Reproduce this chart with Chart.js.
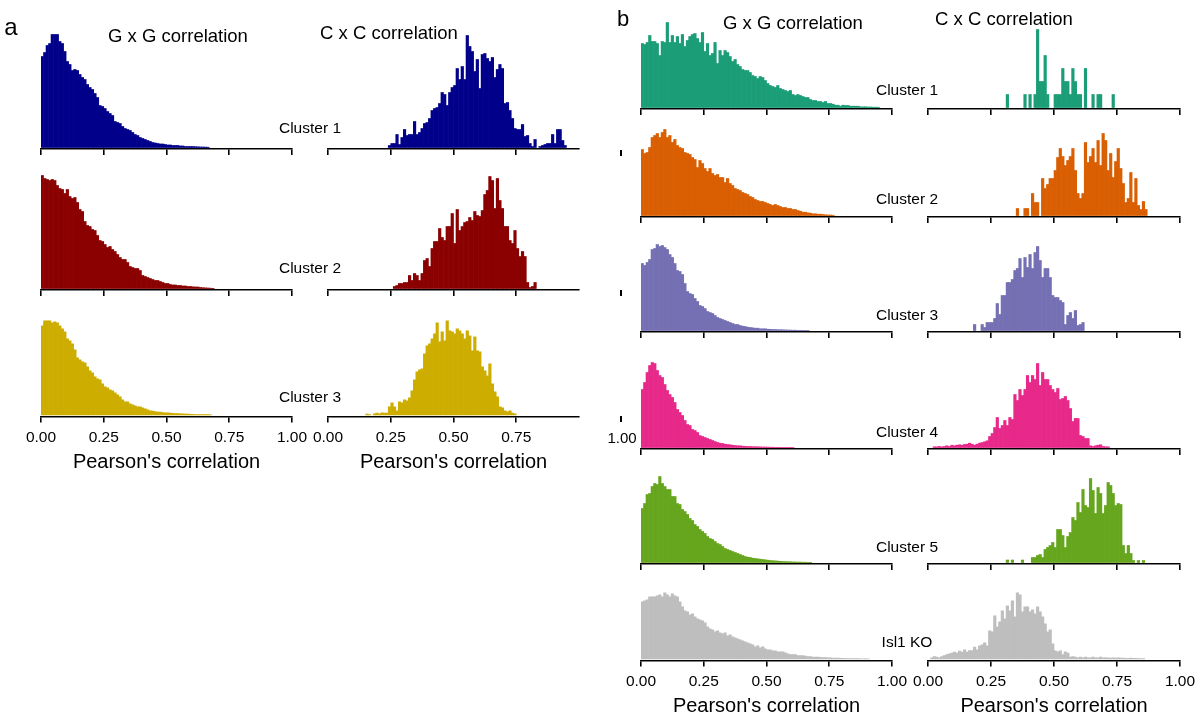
<!DOCTYPE html>
<html>
<head>
<meta charset="utf-8">
<script src="https://cdn.jsdelivr.net/npm/chart.js@4.4.1/dist/chart.umd.min.js"></script>
<style>
  html, body { margin: 0; padding: 0; background: #fff; }
  #fig { position: relative; width: 1202px; height: 717px; overflow: hidden;
         font-family: 'Liberation Sans', Arial, Helvetica, sans-serif; color: #000; }
  .lbl { position: absolute; white-space: nowrap; transform: translate(-50%, -50%); line-height: 1; }
  .hist { position: absolute; }
  .ytick { position: absolute; width: 2px; height: 6px; background: #000; }
</style>
</head>
<body>
<div id="fig"></div>
<script>
// Histograms of pairwise Pearson correlations, 0.01-wide bins starting at 0.
// Values are relative bin heights (bin 0 first).

// ---- Panel a: three clusters ----
const gxgA1 = [91,95,102,104,113,113,113,106,104,96,86,83,77,78,77,73,70,68,63,60,58,54,50,42,41,39,36,34,32,26,25,24,21,19,18,17,15,13,12,10,9,8,7,6,5,4.5,4,3.5,3.5,3,2.5,2.5,2,2,2,1.5,1.5,1,1,1,1,0.8,0.7,0.5,0.5,0.4,0.3];
const cxcA1 = [0,0,0,0,0,0,0,0,0,0,0,0,0,0,0,0,0,0,0,0,0,0,0,0,2,4,4,13,3,10,18,12,13,13,26,13,15,19,24,25,29,37,39,40,44,55,53,42,55,60,62,79,68,81,68,112,101,96,76,88,59,93,94,89,86,90,70,78,83,79,44,45,37,29,19,18,18,23,11,12,4,1,8,0,1,2,3,4,4,13,4,18,18,7,2];
const gxgA2 = [113,110,109,108,109,108,103,100,99,95,99,92,90,91,86,79,77,67,63,62,59,58,53,48,47,44,41,42,39,37,34,31,29,29,26,22,21,20,20,18,13,12,11,10,9,8,8,7,6,5,5,4,3.5,3.5,3,3,2.5,2.5,2,2,1.7,1.5,1.5,1,0.8,0.6,0.5,0.3,0.2];
const cxcA2 = [0,0,0,0,0,0,0,0,0,0,0,0,0,0,0,0,0,0,0,0,0,0,0,0,0,0,2,3,5,5,6,6,13,8,15,13,8,15,28,30,22,40,47,47,60,51,48,62,62,75,45,79,58,62,66,67,71,68,77,73,72,78,94,98,112,108,80,110,88,80,62,62,48,45,58,40,32,37,32,6,1,2,6];
const gxgA3 = [89,94,94,94,92,93,92,89,86,83,76,74,71,65,57,55,53,52,48,44,42,38,36,35,31,28,27,25,24,22,20,18,15,13,13,11,10,9,8,8,7,6,5,4,3.7,3.3,2.7,2.7,2.3,2,2,1.7,1.5,1.3,1.2,1,1,0.8,0.7,0.6,0.5,0.4,0.4,0.3,0.3,0.2,0.2,0.1];
const cxcA3 = [0,0,0,0,0,0,0,0,0,0,0,0,0,0,0,0.7,0.3,0,1,1.7,1,2,1.7,1.7,8,12,8,4,13,12,15,14,17,24,35,43,45,46,61,69,71,76,81,92,73,83,74,94,84,83,81,86,84,81,76,84,79,64,78,64,63,48,44,39,51,31,23,18,8,7,4,3,4,1.7,1];

// ---- Panel b: five clusters and Isl1 KO ----
const gxgB1 = [64,63,65,72,66,66,64,52,66,65,85,65,72,65,71,64,73,61,67,71,73,74,69,65,75,56,64,52,54,65,44,57,52,57,55,51,46,48,43,41,38,37,37,35,32,31,29,31,30,27,24,22,21,20,22,19,18,17,16,17,13,12,13,12,11,10,10,8,7,7,6,6,5,6,4,4,3.3,2.3,2.3,1.3,2.3,2,2,1.3,1.3,1.3,1.3,0.7,0.7,0.7,0.5,0.5,0.3,0.3,0.3];
const cxcB1 = [0,0,0,0,0,0,0,0,0,0,0,0,0,0,0,0,0,0,0,0,0,0,0,0,0,0,0,0,0,0,0,13,0,0,0,0,0,0,13,0,13,0,13,78,26,26,52,13,0,0,13,13,13,39,26,26,13,39,26,13,13,0,39,0,0,13,0,13,13,0,0,0,0,13];
const gxgB2 = [66,62,63,68,78,80,82,78,83,86,78,80,73,76,70,68,67,63,62,61,58,56,48,55,52,47,44,47,42,40,41,38,38,33,37,32,30,27,26,25,23,22,21,19,18,16,15,14,14,13,12,11,10,11,10,9,8,8,7,7,6,6,5,4.3,3.3,3.3,2.7,2.3,1.7,1.7,1.3,1.3,1,0.7,0.5,0.5,0.3];
const cxcB2 = [0,0,0,0,0,0,0,0,0,0,0,0,0,0,0,0,0,0,0,0,0,0,0,0,0,0,0,0,0,0,0,0,0,0,0,7,0,0,7,7,0,22,13,13,0,37,27,31,37,37,45,58,67,59,50,55,59,67,45,22,17,22,73,53,59,67,53,75,50,82,75,45,62,38,54,67,47,32,13,17,43,13,37,10,6,14,6];
const gxgB3 = [67,65,68,71,81,82,86,84,85,83,81,76,73,67,60,59,56,47,39,37,36,32,29,25,24,22,19,18,17,15,13,12,11,10,9,8,7,6,6,5,4.3,4,3.3,3,2.7,2.3,2.3,1.7,1.7,1.7,1.3,1.2,1,1,0.8,0.8,0.7,0.6,0.5,0.4,0.3,0.3,0.2,0.2,0.2,0.1,0.1];
const cxcB3 = [0,0,0,0,0,0,0,0,0,0,0,0,0,0,0,0,0,0,6,0,0,6,3,8,8,8,12,27,16,35,35,48,48,51,60,62,72,53,73,63,76,62,78,84,70,53,62,62,53,35,33,33,30,28,6,15,18,12,20,5,6,8];
const gxgB4 = [58,65,75,82,85,84,77,72,70,63,57,53,50,45,38,35,32,27,23,22,18,17,15,12,11,10,9,8,7,6,5,4.3,4,3.3,3,2.7,2.3,2,1.7,1.7,1.3,1.2,1,1,0.8,0.8,0.7,0.6,0.5,0.5,0.4,0.3,0.3,0.2,0.2,0.2,0.1,0.1,0.1,0.1,0.1];
const cxcB4 = [0,0,0.7,0.7,1,0.7,1,1.7,1,2.3,1.7,2.3,2.7,2.3,3,3.3,4.3,3.3,2.3,3.3,4.3,5,5.7,6.7,11,14,20,30,19,22,27,22,30,28,53,47,58,52,58,72,65,72,68,84,62,75,68,68,62,58,55,59,48,49,51,47,39,26,29,29,12,11,9,9,1.7,1,1.7,2.3,2.7,1,0.7,0.7];
const gxgB5 = [54,59,68,69,76,79,78,86,79,76,73,73,66,66,59,58,53,51,48,44,42,38,36,33,31,29,26,24,23,21,19,18,16,14,13,12,11,10,9,8,7,6,5.3,5,4.3,4,3.7,3.3,3,2.7,2.3,2,1.8,1.6,1.4,1.2,1,0.9,0.8,0.7,0.6,0.5,0.4,0.4,0.3,0.3,0.2,0.2];
const cxcB5 = [0,0,0,0,0,0,0,0,0,0,0,0,0,0,0,0,0,0,0,0,0,0,0,0,0,0,0,0,0,0,0,2.5,0,2.5,0,0,0,2.5,0,0,0,5,5,7,8,5,13,15,17,20,15,33,33,27,15,26,30,45,42,60,50,73,57,55,84,72,49,75,69,49,57,80,77,69,57,59,58,17,9,17,9,2,0,2,0,2];
const gxgB6 = [57,58,59,62,62,62,63,64,62,66,64,62,65,63,62,57,52,48,47,44,45,42,40,39,38,36,32,30,29,27,28,26,25,26,23,24,22,21,20,19,18,17,16,15,14,12,13,11,12,10,9,9,8,8,7,7,7,6,5,4.3,4.3,4.3,3.3,3.3,3.3,2.7,2.3,2.3,1.7,1.7,1.7,1.5,1.3,1.3,1,1,0.8,0.8,0.7,0.6,0.5,0.4,0.3,0.3,0.2,0.2,0.2,0.1,0.1,0.1,0.1];
const cxcB6 = [0,1,2.3,1.7,1,2.3,3.3,4.3,5,5.7,6.7,5.7,7.7,6.7,9,6.7,8.3,8.3,11.7,9,13,14,16,13,28,27,43,32,37,48,40,53,48,58,42,66,64,47,52,52,47,49,45,52,47,42,35,27,29,15,8,7,8,4.3,7,5.7,1.7,2.3,1.7,1,1.7,1,1.7,1,1,1.7,1,1,1.7,1,1,1,0.7,1,0.7,1,0.7,0.7,0.5,0.5,0.7,0.5,0.5,0.3,0.3,0.3];

const BIN = 0.01;
const TICK_STEP = 0.25;
const AXIS_TITLE = "Pearson's correlation";

// ---- colours ----
const NAVY = '#00008B', DARKRED = '#8B0000', GOLD = '#CDAD00';
const DARK2 = ['#1B9E77', '#D95F02', '#7570B3', '#E7298A', '#66A61E'];
const GREY = '#BEBEBE';

// ---- layout (pixels): axis span and baseline of every histogram ----
const PAD = 30;      // side room for the end tick labels
const GAP = 1.5;     // bars float slightly above the axis line
const panels = [
  { v: gxgA1, color: NAVY,    x0: 41,  x1: 292,  axisY: 149 },
  { v: cxcA1, color: NAVY,    x0: 328, x1: 579,  axisY: 149, noEnd: true },
  { v: gxgA2, color: DARKRED, x0: 41,  x1: 292,  axisY: 290 },
  { v: cxcA2, color: DARKRED, x0: 328, x1: 579,  axisY: 290, noEnd: true },
  { v: gxgA3, color: GOLD,    x0: 41,  x1: 292,  axisY: 416, labels: true },
  { v: cxcA3, color: GOLD,    x0: 328, x1: 579,  axisY: 416, labels: true, noEnd: true },

  { v: gxgB1, color: DARK2[0], x0: 641, x1: 892,  axisY: 109 },
  { v: cxcB1, color: DARK2[0], x0: 928, x1: 1180, axisY: 109 },
  { v: gxgB2, color: DARK2[1], x0: 641, x1: 892,  axisY: 217 },
  { v: cxcB2, color: DARK2[1], x0: 928, x1: 1180, axisY: 217 },
  { v: gxgB3, color: DARK2[2], x0: 641, x1: 892,  axisY: 332 },
  { v: cxcB3, color: DARK2[2], x0: 928, x1: 1180, axisY: 332 },
  { v: gxgB4, color: DARK2[3], x0: 641, x1: 892,  axisY: 449 },
  { v: cxcB4, color: DARK2[3], x0: 928, x1: 1180, axisY: 449 },
  { v: gxgB5, color: DARK2[4], x0: 641, x1: 892,  axisY: 564 },
  { v: cxcB5, color: DARK2[4], x0: 928, x1: 1180, axisY: 564 },
  { v: gxgB6, color: GREY,     x0: 641, x1: 892,  axisY: 660, labels: true },
  { v: cxcB6, color: GREY,     x0: 928, x1: 1180, axisY: 660, labels: true }
];

Chart.defaults.font.family = "'Liberation Sans', Arial, Helvetica, sans-serif";
Chart.defaults.color = '#000';

const fig = document.getElementById('fig');

function drawHist(p) {
  const wrap = document.createElement('div');
  wrap.className = 'hist';
  const cv = document.createElement('canvas');
  let W = (p.x1 - p.x0) + 2 * PAD;
  const H = p.labels ? 200 : 140;
  cv.width = W; cv.height = H;
  cv.style.width = W + 'px'; cv.style.height = H + 'px';
  wrap.appendChild(cv);
  fig.appendChild(wrap);

  const chart = new Chart(cv, {
    type: 'bar',
    data: {
      datasets: [{
        // empty bins are left out so nothing is drawn for them
        data: p.v.map((y, i) => ({ x: (i + 0.5) * BIN, y: y > 0 ? y : null })),
        backgroundColor: p.color,
        borderWidth: 0,
        barPercentage: 1,
        categoryPercentage: 1
      }]
    },
    options: {
      responsive: false,
      animation: false,
      events: [],
      layout: { padding: { left: PAD, right: PAD, top: 0, bottom: 0 } },
      plugins: { legend: { display: false }, tooltip: { enabled: false } },
      scales: {
        x: {
          type: 'linear', min: 0, max: 1, offset: false,
          grid: { display: true, offset: false, drawOnChartArea: false, drawTicks: true,
                  tickLength: 6, color: '#000', lineWidth: 1.6 },
          border: { display: true, color: '#000', width: 1.6 },
          ticks: { display: !!p.labels, stepSize: TICK_STEP, autoSkip: false, maxRotation: 0,
                   padding: 6, color: '#000', font: { size: 15.5 },
                   callback: (val) => Number(val).toFixed(2) },
          afterBuildTicks: p.noEnd ? (s) => { s.ticks = s.ticks.filter(t => t.value < 0.999); } : undefined,
          title: { display: !!p.labels, text: AXIS_TITLE, color: '#000',
                   font: { size: 20 }, padding: { top: -3, bottom: 0 } }
        },
        y: { display: false, min: -GAP, max: 100 }
      }
    }
  });

  // make the plot width equal to the axis span
  let ca = chart.chartArea;
  for (let k = 0; k < 4; k++) {
    const diff = (p.x1 - p.x0) - (ca.right - ca.left);
    if (Math.abs(diff) < 0.25) break;
    W = Math.round(W + diff);
    chart.resize(W, H);
    ca = chart.chartArea;
  }
  // one value unit per pixel of plot height
  chart.options.scales.y.max = (ca.bottom - ca.top) - GAP;
  chart.update('none');
  ca = chart.chartArea;
  wrap.style.left = (p.x0 - ca.left) + 'px';
  wrap.style.top = (p.axisY - ca.bottom) + 'px';
}

panels.forEach(drawHist);

// ---- text ----
function label(text, x, y, size) {
  const d = document.createElement('div');
  d.className = 'lbl';
  d.textContent = text;
  d.style.left = x + 'px';
  d.style.top = y + 'px';
  d.style.fontSize = size + 'px';
  fig.appendChild(d);
}

label('a', 11, 27, 24);
label('b', 623, 19, 22);
label('G x G correlation', 178, 36, 18.5);
label('C x C correlation', 389, 33, 18.5);
label('G x G correlation', 793, 23, 18.5);
label('C x C correlation', 1004, 19, 18.5);

const clusterNamesA = ['Cluster 1', 'Cluster 2', 'Cluster 3'];
const clusterYA = [128, 268, 397];
clusterNamesA.forEach((t, i) => label(t, 310, clusterYA[i], 15.5));

const clusterNamesB = ['Cluster 1', 'Cluster 2', 'Cluster 3', 'Cluster 4', 'Cluster 5', 'Isl1 KO'];
const clusterYB = [90, 199, 315, 432, 547, 642];
clusterNamesB.forEach((t, i) => label(t, 907, clusterYB[i], 15.5));

// leftover y-axis marks at the left edge of panel b
[150, 290, 416].forEach(y => {
  const t = document.createElement('div');
  t.className = 'ytick';
  t.style.left = '620px';
  t.style.top = y + 'px';
  fig.appendChild(t);
});
label('1.00', 622, 437, 15);
</script>
</body>
</html>
